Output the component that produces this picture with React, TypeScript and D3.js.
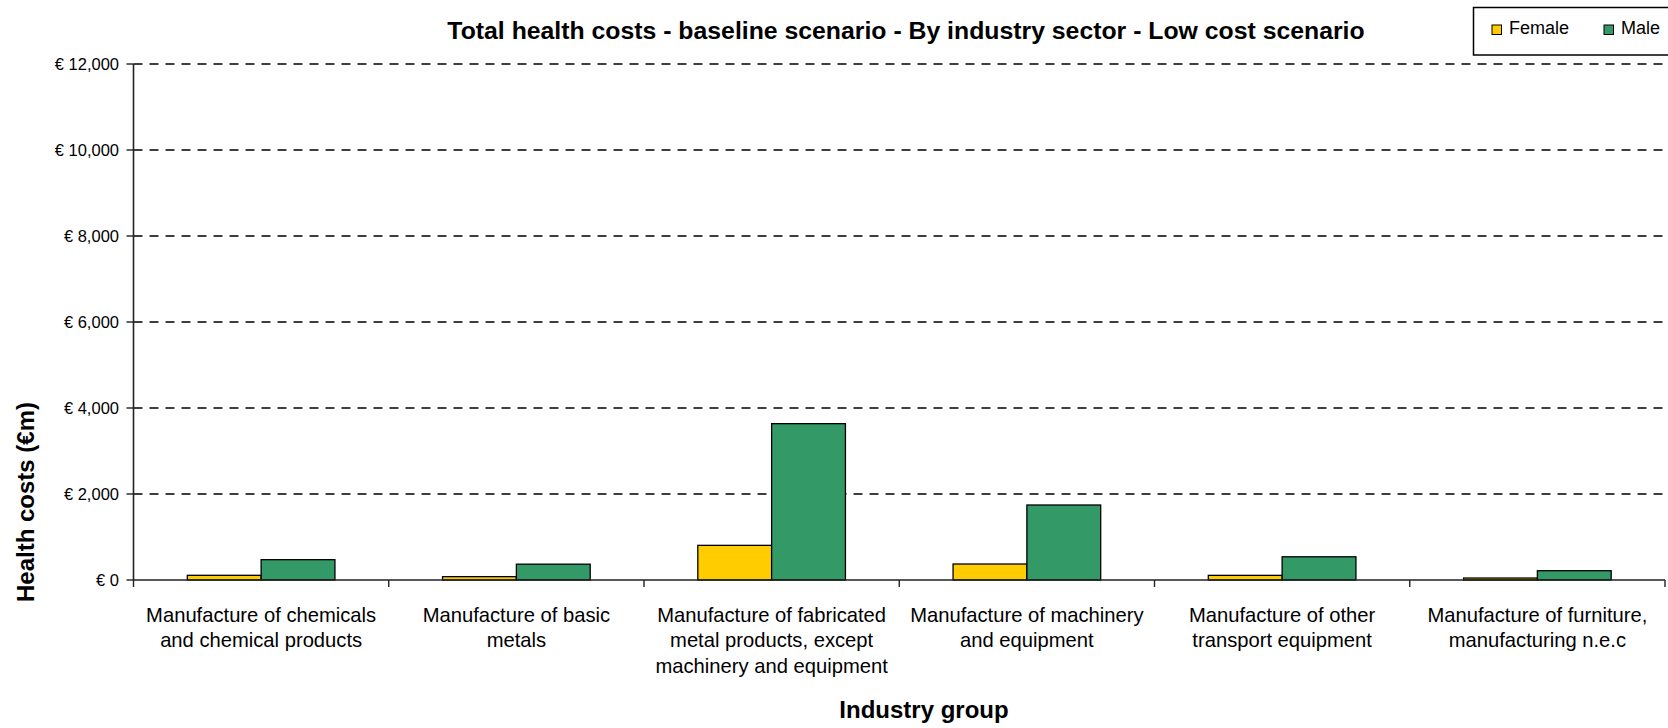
import React from "react";
import * as d3 from "d3";

const categories = [
  "Manufacture of chemicals and chemical products",
  "Manufacture of basic metals",
  "Manufacture of fabricated metal products, except machinery and equipment",
  "Manufacture of machinery and equipment",
  "Manufacture of other transport equipment",
  "Manufacture of furniture, manufacturing n.e.c",
];
const categoryLines = [
  ["Manufacture of chemicals", "and chemical products"],
  ["Manufacture of basic", "metals"],
  ["Manufacture of fabricated", "metal products, except", "machinery and equipment"],
  ["Manufacture of machinery", "and equipment"],
  ["Manufacture of other", "transport equipment"],
  ["Manufacture of furniture,", "manufacturing n.e.c"],
];
const seriesNames = ["Female", "Male"];
const seriesColors = ["#FFCC00", "#339966"];
const femaleValues = [109, 78, 806, 372, 108, 46];
const maleValues = [473, 368, 3636, 1744, 540, 216];
const yTickValues = [0, 2000, 4000, 6000, 8000, 10000, 12000];

const title = "Total health costs - baseline scenario - By industry sector - Low cost scenario";
const yTitle = "Health costs (\u20ACm)";
const xTitle = "Industry group";

const FONT = "'Liberation Sans', Arial, sans-serif";

export default function App() {
  const W = 1668;
  const H = 728;
  const left = 133.5;
  const right = 1665;
  const top = 64;
  const bottom = 580;

  const x0 = d3.scaleBand<string>().domain(categories).range([left, right]).padding(0);
  const x1 = d3
    .scaleBand<string>()
    .domain(seriesNames)
    .range([0, x0.bandwidth()])
    .paddingInner(0)
    .paddingOuter(0.729);
  const y = d3.scaleLinear().domain([0, 12000]).range([bottom, top]);
  const fmt = d3.format(",");
  const seriesValues = [femaleValues, maleValues];

  const boundaries = [...categories.map((c) => x0(c) as number), right];

  return (
    <svg
      width={W}
      height={H}
      style={{ position: "absolute", left: 0, top: 0, display: "block", background: "#fff" }}
      fontFamily={FONT}
    >
      <rect x={0} y={0} width={W} height={H} fill="#fff" />
      {/* title */}
      <text x={906} y={39} textAnchor="middle" fontSize={24.8} fontWeight="bold" fill="#000">
        {title}
      </text>

      {/* gridlines */}
      {yTickValues
        .filter((v) => v !== 0)
        .map((v) => (
          <line
            key={"g" + v}
            x1={left}
            x2={right}
            y1={y(v)}
            y2={y(v)}
            stroke="#000"
            strokeWidth={1.4}
            strokeDasharray="9,7"
          />
        ))}

      {/* bars */}
      {categories.map((c, ci) => (
        <g key={c} transform={`translate(${x0(c)},0)`}>
          {seriesNames.map((s, si) => {
            const v = seriesValues[si][ci];
            return (
              <rect
                key={s}
                x={x1(s)}
                y={y(v)}
                width={x1.bandwidth()}
                height={y(0) - y(v)}
                fill={seriesColors[si]}
                stroke="#000"
                strokeWidth={1.3}
              />
            );
          })}
        </g>
      ))}

      {/* y axis */}
      <line x1={left} x2={left} y1={top} y2={bottom} stroke="#222" strokeWidth={1.6} />
      {yTickValues.map((v) => (
        <g key={"t" + v}>
          <line x1={left - 7} x2={left} y1={y(v)} y2={y(v)} stroke="#222" strokeWidth={1.4} />
          <text
            x={119}
            y={y(v)}
            dy="0.35em"
            textAnchor="end"
            fontSize={16.5}
            fill="#000"
          >
            {"\u20AC " + fmt(v)}
          </text>
        </g>
      ))}

      {/* x axis */}
      <line x1={left} x2={right} y1={bottom} y2={bottom} stroke="#222" strokeWidth={1.6} />
      {boundaries.map((bx, i) => (
        <line key={"xt" + i} x1={bx} x2={bx} y1={bottom} y2={bottom + 7} stroke="#222" strokeWidth={1.4} />
      ))}
      {categories.map((c, ci) => (
        <text
          key={"l" + c}
          x={(x0(c) as number) + x0.bandwidth() / 2}
          y={621.5}
          textAnchor="middle"
          fontSize={20.2}
          fill="#000"
        >
          {categoryLines[ci].map((ln, li) => (
            <tspan key={li} x={(x0(c) as number) + x0.bandwidth() / 2} dy={li === 0 ? 0 : 25.5}>
              {ln}
            </tspan>
          ))}
        </text>
      ))}

      {/* axis titles */}
      <text x={924} y={718} textAnchor="middle" fontSize={24} fontWeight="bold" fill="#000">
        {xTitle}
      </text>
      <text
        transform={`translate(34,502) rotate(-90)`}
        textAnchor="middle"
        fontSize={24}
        fontWeight="bold"
        fill="#000"
      >
        {yTitle}
      </text>

      {/* legend */}
      <rect x={1473.5} y={7.5} width={200} height={47.5} fill="#fff" stroke="#000" strokeWidth={1.5} />
      {seriesNames.map((s, i) => (
        <g key={"lg" + s} transform={`translate(${1492 + i * 112},0)`}>
          <rect x={0} y={25} width={9.5} height={9.5} fill={seriesColors[i]} stroke="#000" strokeWidth={1} />
          <text x={17} y={33.5} fontSize={18} fill="#000">
            {s}
          </text>
        </g>
      ))}
    </svg>
  );
}
